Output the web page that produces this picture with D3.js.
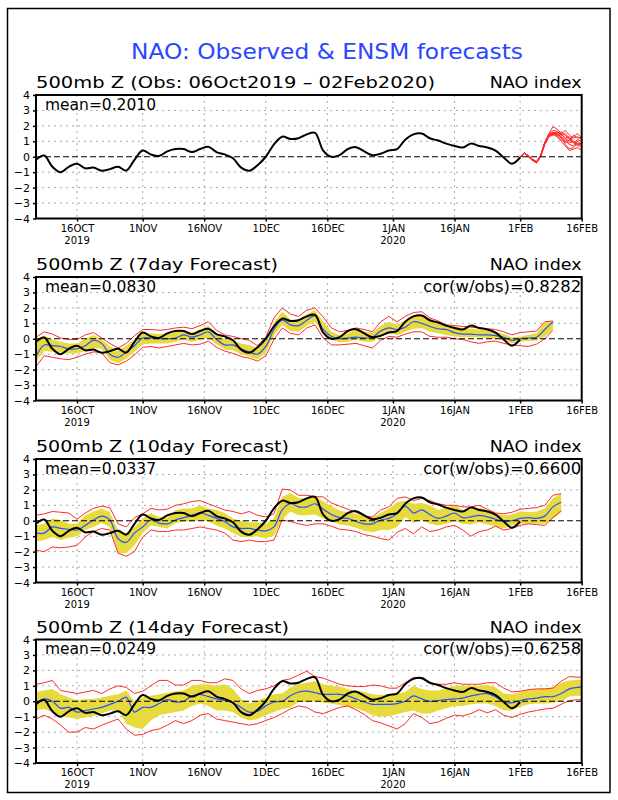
<!DOCTYPE html>
<meta charset="utf-8">
<style>
body {
  margin: 0;
  background: #fff;
}
text {
  font-family: "DejaVu Sans", sans-serif;
}
</style>
<body>
<script src="https://cdn.jsdelivr.net/npm/d3@7"></script>
<script>

var width = 618,
    height = 800;

// x axis ticks (dates) and their labels
var tickDates = ["2019-10-16", "2019-11-01", "2019-11-16", "2019-12-01", "2019-12-16",
                 "2020-01-01", "2020-01-16", "2020-02-01", "2020-02-16"];
var yearDates = ["2019-10-16", "2020-01-01"];
var yearLabels = ["2019", "2020"];
var yTicks = [-4, -3, -2, -1, 0, 1, 2, 3, 4];

var panelTitles = ["500mb Z (Obs: 06Oct2019 \u2013 02Feb2020)", "500mb Z (7day Forecast)",
                   "500mb Z (10day Forecast)", "500mb Z (14day Forecast)"];
var panelMeans = ["0.2010", "0.0830", "0.0337", "0.0249"];
var panelCors = [null, "0.8282", "0.6600", "0.6258"];

// observed NAO, every 2 days from 06Oct2019
var obs = [-0.2, 0.08, -0.65, -1.0, -0.65, -0.45, -0.75, -0.7, -0.9, -0.8,
           -0.65, -0.9, -0.2, 0.4, 0.15, 0.05, 0.35, 0.5, 0.5, 0.3,
           0.5, 0.65, 0.3, 0.15, -0.1, -0.7, -0.9, -0.55, 0.0, 0.8,
           1.3, 1.15, 1.2, 1.45, 1.55, 0.4, 0.0, 0.1, 0.5, 0.62,
           0.35, 0.1, 0.2, 0.4, 0.5, 1.1, 1.45, 1.5, 1.2, 1.05,
           0.85, 0.7, 0.6, 0.85, 0.7, 0.6, 0.4, -0.05, -0.45, -0.05];

// ensemble members, daily from 01Feb2020
var members = [
  [-0.05, 0.25, 0.05, -0.2, -0.35, 0.1, 0.9, 1.5, 1.95, 1.8, 1.5, 1.2, 1.3, 1.0, 0.8, 0.9],
  [-0.05, 0.25, 0.05, -0.2, -0.35, 0.05, 0.85, 1.4, 1.5, 1.55, 1.6, 1.4, 1.1, 0.9, 1.1, 1.0],
  [-0.05, 0.25, 0.0, -0.2, -0.4, 0.0, 0.8, 1.3, 1.4, 1.5, 1.3, 0.8, 0.5, 0.6, 0.9, 0.7],
  [-0.05, 0.25, 0.05, -0.15, -0.3, 0.1, 0.95, 1.45, 1.6, 1.4, 1.5, 1.7, 1.4, 1.2, 1.3, 1.1],
  [-0.05, 0.25, 0.05, -0.2, -0.35, 0.05, 0.9, 1.35, 1.45, 1.3, 1.0, 0.7, 0.4, 0.5, 0.6, 0.4],
  [-0.05, 0.25, 0.0, -0.25, -0.4, 0.0, 0.8, 1.3, 1.55, 1.6, 1.45, 1.2, 1.0, 1.3, 1.5, 1.2],
  [-0.05, 0.25, 0.05, -0.2, -0.35, 0.1, 0.85, 1.4, 1.5, 1.45, 1.2, 1.0, 0.8, 0.7, 1.0, 0.8],
  [-0.05, 0.25, 0.05, -0.2, -0.35, 0.05, 0.9, 1.45, 1.7, 1.65, 1.4, 1.5, 1.2, 0.9, 0.7, 0.9],
  [-0.05, 0.25, 0.05, -0.2, -0.35, 0.05, 0.85, 1.35, 1.5, 1.35, 1.1, 0.9, 1.1, 1.4, 1.2, 1.3],
  [-0.05, 0.25, 0.05, -0.2, -0.35, 0.05, 0.9, 1.4, 1.55, 1.5, 1.3, 1.1, 0.9, 1.0, 0.8, 0.6]
];

// forecasts, every 2 days from 06Oct2019: ensemble mean, yellow band, red envelope
var fc7Mean = [-1.15, -0.4, -0.45, -0.5, -0.65, -0.65, -0.45, -0.1, -0.3, -1.0,
               -1.2, -0.85, -0.45, 0.05, 0.05, 0.0, 0.0, 0.05, 0.25, 0.1,
               0.25, 0.45, -0.05, -0.4, -0.4, -0.65, -0.85, -1.0, -0.5, 0.6,
               1.2, 0.9, 0.85, 1.2, 1.5, 0.6, 0.15, 0.0, 0.05, 0.1,
               0.05, 0.1, 0.5, 0.7, 0.6, 0.75, 1.1, 1.0, 0.8, 0.65,
               0.6, 0.4, 0.3, 0.3, 0.25, 0.25, 0.2, 0.1, -0.1, 0.0,
               0.05, 0.1, 0.6, 1.1];
var fc7YLo = [-1.45, -0.8, -0.85, -0.9, -0.95, -0.95, -0.8, -0.6, -0.65, -1.35,
              -1.6, -1.3, -0.85, -0.35, -0.3, -0.3, -0.3, -0.2, -0.05, -0.2,
              -0.05, 0.05, -0.35, -0.7, -0.75, -1.0, -1.15, -1.35, -0.9, 0.2,
              0.9, 0.5, 0.45, 0.85, 1.1, 0.3, -0.05, -0.25, -0.2, -0.05,
              -0.2, -0.2, 0.15, 0.35, 0.25, 0.45, 0.65, 0.7, 0.45, 0.35,
              0.25, 0.15, 0.1, 0.1, 0.1, 0.05, 0.0, -0.1, -0.3, -0.2,
              -0.15, -0.1, 0.15, 0.6];
var fc7YHi = [-0.05, 0.2, -0.05, -0.2, -0.3, -0.3, 0.0, 0.25, -0.05, -0.5,
              -0.8, -0.45, -0.05, 0.4, 0.35, 0.3, 0.3, 0.4, 0.55, 0.4,
              0.6, 0.85, 0.3, -0.05, -0.1, -0.3, -0.4, -0.6, -0.15, 1.05,
              1.75, 1.25, 1.15, 1.6, 1.85, 1.1, 0.45, 0.25, 0.35, 0.6,
              0.45, 0.4, 0.85, 1.1, 0.9, 1.2, 1.5, 1.5, 1.2, 1.0,
              0.85, 0.8, 0.7, 0.65, 0.6, 0.55, 0.45, 0.3, 0.1, 0.15,
              0.25, 0.35, 1.05, 1.1];
var fc7RLo = [-1.8, -1.1, -1.2, -1.3, -1.35, -1.2, -1.0, -0.85, -0.9, -1.55,
              -1.7, -1.45, -1.05, -0.55, -0.5, -0.6, -0.5, -0.4, -0.3, -0.4,
              -0.35, -0.15, -0.55, -0.8, -0.95, -1.15, -1.25, -1.45, -1.1, -0.05,
              0.7, 0.35, 0.25, 0.7, 0.9, 0.05, -0.4, -0.4, -0.35, -0.3,
              -0.45, -0.6, -0.1, 0.15, 0.1, 0.3, 0.45, 0.45, 0.15, 0.1,
              0.1, 0.0, -0.05, -0.2, -0.3, -0.2, -0.15, -0.3, -0.4, -0.45,
              -0.5, -0.35, 0.0, 0.55];
var fc7RHi = [0.1, 0.45, 0.3, 0.05, -0.05, -0.05, 0.25, 0.4, 0.05, -0.3,
              -0.6, -0.3, 0.2, 0.6, 0.6, 0.55, 0.6, 0.7, 0.75, 0.65,
              0.85, 1.1, 0.55, 0.25, 0.15, 0.0, -0.1, -0.45, 0.1, 1.35,
              2.0, 1.6, 1.45, 1.85, 2.0, 1.4, 0.7, 0.45, 0.55, 0.7,
              0.6, 0.45, 1.1, 1.45, 1.1, 1.45, 1.7, 1.75, 1.35, 1.15,
              0.9, 0.85, 0.8, 0.75, 0.7, 0.65, 0.6, 0.45, 0.25, 0.4,
              0.45, 0.5, 1.1, 1.15];

var fc10Mean = [-0.8, -0.8, -0.4, -0.5, -0.55, -0.6, -0.3, 0.05, 0.3, 0.05,
                -1.15, -1.4, -0.8, -0.4, 0.05, -0.15, -0.2, 0.05, 0.2, 0.35,
                0.5, 0.35, 0.15, -0.05, -0.4, -0.5, -0.5, -0.6, -0.65, -0.4,
                0.7, 1.1, 0.9, 0.9, 1.1, 0.75, 0.4, 0.2, 0.15, -0.05,
                -0.2, -0.2, 0.05, 0.15, 0.45, 0.95, 0.5, 0.7, 0.4, 0.15,
                0.3, 0.5, 0.2, 0.25, 0.35, 0.25, 0.1, -0.05, 0.0, 0.15,
                0.2, 0.15, 0.3, 0.9, 1.2];
var fc10YLo = [-1.35, -1.25, -1.05, -1.25, -1.1, -1.0, -0.6, -0.4, -0.15, -0.4,
               -2.1, -2.1, -1.6, -0.8, -0.3, -0.4, -0.5, -0.15, -0.05, -0.05,
               0.05, -0.05, -0.3, -0.5, -0.8, -1.05, -1.05, -1.0, -1.15, -0.95,
               0.05, 0.6, 0.35, 0.35, 0.4, 0.15, -0.05, -0.25, -0.3, -0.45,
               -0.65, -0.75, -0.6, -0.6, -0.4, 0.25, -0.15, 0.05, -0.2, -0.3,
               -0.2, 0.0, -0.2, -0.25, -0.1, -0.25, -0.35, -0.5, -0.3, -0.2,
               -0.2, -0.2, -0.2, 0.15, 0.55];
var fc10YHi = [-0.3, -0.2, 0.15, 0.05, -0.2, -0.2, 0.35, 0.6, 0.8, 0.55,
               -0.6, -0.8, -0.4, 0.15, 0.5, 0.25, 0.2, 0.7, 0.8, 0.8,
               1.0, 0.8, 0.7, 0.5, 0.15, 0.0, -0.1, -0.1, -0.2, 0.15,
               1.55, 1.8, 1.45, 1.45, 1.6, 1.25, 0.95, 0.65, 0.55, 0.45,
               0.3, 0.25, 0.5, 0.8, 1.2, 1.3, 1.1, 1.15, 1.0, 0.7,
               0.85, 1.0, 0.7, 0.75, 0.85, 0.7, 0.45, 0.35, 0.4, 0.6,
               0.55, 0.6, 0.8, 1.45, 1.75];
var fc10RLo = [-1.9, -2.0, -1.7, -1.75, -1.7, -1.6, -1.05, -0.7, -0.5, -0.6,
               -2.1, -2.3, -2.0, -1.05, -0.6, -0.7, -0.7, -0.6, -0.6, -0.5,
               -0.4, -0.5, -0.6, -0.8, -1.25, -1.35, -1.25, -1.35, -1.35, -1.25,
               0.05, -0.05, -0.2, -0.3, -0.2, -0.2, -0.35, -0.55, -0.6, -0.7,
               -0.9, -1.0, -1.15, -1.25, -0.75, -0.5, -0.85, -0.4, -0.7, -0.6,
               -0.4, -0.3, -0.6, -1.0, -0.7, -0.6, -0.35, -0.6, -0.5, -0.3,
               -0.2, -0.25, -0.3, 0.2, 0.65];
var fc10RHi = [0.35, 0.45, 0.6, 0.55, 0.5, 0.1, 0.5, 0.8, 0.95, 0.85,
               -0.2, -0.4, 0.2, 0.45, 0.8, 0.7, 0.75, 1.0, 1.1, 1.25,
               1.3, 1.1, 0.9, 0.7, 0.6, 0.45, 0.6, 0.35, 0.25, 0.45,
               2.05, 2.0, 1.65, 1.65, 1.55, 1.55, 1.15, 0.95, 0.75, 0.55,
               0.3, 0.25, 0.7, 0.9, 1.45, 1.55, 1.3, 1.45, 1.3, 1.1,
               1.0, 1.0, 0.9, 0.9, 1.0, 0.75, 0.5, 0.45, 0.55, 0.75,
               0.8, 0.85, 1.0, 1.65, 1.75];

var fc14Mean = [-0.1, 0.15, 0.0, -0.45, -0.4, -0.7, -0.6, -0.5, -0.4, -0.2,
                0.0, 0.25, -0.7, -0.4, -0.4, -0.15, 0.1, -0.05, 0.0, 0.35,
                0.45, 0.3, 0.15, 0.05, -0.1, -0.4, -0.7, -0.65, -0.3, -0.05,
                0.0, 0.35, 0.6, 0.65, 0.55, 0.45, 0.45, 0.45, 0.35, 0.15,
                -0.05, -0.2, -0.2, -0.2, -0.15, 0.0, 0.35, 0.15, 0.0, 0.05,
                0.1, 0.15, 0.2, 0.35, 0.45, 0.5, 0.3, -0.05, -0.1, 0.05,
                0.15, 0.2, 0.3, 0.3, 0.5, 0.8, 0.9, 0.95];
var fc14YLo = [-0.6, -0.5, -0.7, -0.9, -1.05, -1.15, -1.05, -0.95, -0.8, -0.6,
               -0.6, -1.45, -1.7, -1.8, -1.25, -0.9, -0.8, -0.7, -0.6, -0.3,
               -0.15, -0.3, -0.6, -0.6, -0.7, -1.05, -1.25, -1.15, -0.9, -0.7,
               -0.5, -0.4, -0.05, -0.05, 0.0, -0.1, -0.15, -0.25, -0.35, -0.45,
               -0.65, -0.9, -1.0, -0.95, -0.85, -0.7, -0.6, -0.8, -0.8, -0.6,
               -0.45, -0.3, -0.3, -0.2, -0.15, -0.15, -0.3, -0.6, -0.6, -0.35,
               -0.2, -0.15, -0.15, -0.1, 0.0, 0.3, 0.35, 0.35];
var fc14YHi = [0.6, 0.7, 0.8, 0.45, 0.25, 0.05, 0.15, 0.15, 0.25, 0.35,
               0.45, 0.7, -0.05, 0.25, 0.35, 0.45, 0.55, 0.65, 0.7, 1.0,
               1.1, 1.1, 1.0, 1.1, 0.8, 0.15, -0.15, 0.05, 0.25, 0.45,
               0.5, 0.9, 1.1, 1.2, 1.3, 1.1, 1.0, 0.95, 0.8, 0.7,
               0.6, 0.45, 0.4, 0.45, 0.5, 0.6, 1.0, 0.8, 0.7, 0.7,
               0.85, 1.0, 1.0, 1.0, 1.0, 1.05, 0.9, 0.5, 0.45, 0.6,
               0.75, 0.8, 0.85, 0.9, 1.2, 1.35, 1.4, 1.4];
var fc14RLo = [-1.15, -0.9, -1.15, -1.55, -2.0, -2.0, -1.7, -1.8, -1.55, -1.35,
               -1.15, -1.8, -2.2, -2.15, -1.9, -1.8, -1.55, -1.25, -1.45, -1.25,
               -0.9, -0.8, -1.15, -1.25, -1.35, -1.45, -1.55, -1.45, -1.25, -1.05,
               -0.8, -0.5, -0.3, -0.4, -0.7, -0.8, -0.6, -0.4, -0.3, -0.55,
               -0.85, -1.25, -1.4, -1.6, -1.8, -1.45, -0.8, -1.05, -1.45, -1.35,
               -1.1, -0.9, -0.95, -0.8, -0.55, -0.75, -0.55, -0.9, -1.05, -0.85,
               -0.7, -0.6, -0.5, -0.45, -0.2, 0.05, 0.1, 0.1];
var fc14RHi = [1.1, 1.2, 1.35, 0.7, 0.6, 0.5, 0.6, 0.7, 0.5, 0.8,
               1.0, 0.9, 0.5, 0.65, 1.0, 1.35, 1.35, 1.05, 1.05, 1.35,
               1.35, 1.2, 1.2, 1.45, 1.35, 0.8, 0.5, 0.7, 0.8, 1.0,
               1.35, 1.45, 1.7, 1.95, 1.6, 1.5, 1.3, 1.1, 1.0, 0.95,
               0.95, 1.05, 1.0, 0.85, 0.85, 1.2, 1.55, 1.45, 1.2, 1.1,
               1.1, 1.2, 1.1, 1.1, 1.1, 1.2, 1.2, 0.85, 0.6, 0.65,
               0.75, 0.8, 0.8, 0.85, 1.3, 1.6, 1.55, 1.6];

var forecasts = [
  null,
  [fc7Mean, fc7YLo, fc7YHi, fc7RLo, fc7RHi],
  [fc10Mean, fc10YLo, fc10YHi, fc10RLo, fc10RHi],
  [fc14Mean, fc14YLo, fc14YHi, fc14RLo, fc14RHi]
];

// ---- layout
var startDate = new Date(Date.UTC(2019, 9, 6));
var obsStep = 2;
function day(n) { return d3.utcDay.offset(startDate, n); }
function parse(s) { return d3.utcParse("%Y-%m-%d")(s); }

var left = 36, right = 581.7,
    panelTops = [95, 277, 459, 639.5],
    panelH = 123.5,
    titleWidths = [399, 242, 253, 253];

var x = d3.scaleUtc()
    .domain([startDate, parse("2020-02-16")])
    .range([left, right]);

var fmtTick = function(d) { return d3.utcFormat("%-d%b")(d).toUpperCase(); };

var svg = d3.select("body").append("svg")
    .attr("width", width)
    .attr("height", height);

svg.append("rect")
    .attr("x", 7.5).attr("y", 8.5)
    .attr("width", 602.5).attr("height", 784)
    .style("fill", "none").style("stroke", "black").style("stroke-width", 1.5);

function label(g, str, x0, y0, w, size, color) {
  return g.append("text")
      .attr("x", x0).attr("y", y0)
      .attr("font-size", size)
      .attr("fill", color || "#000")
      .attr("textLength", w)
      .attr("lengthAdjust", "spacingAndGlyphs")
      .text(str);
}

label(svg, "NAO: Observed & ENSM forecasts", 131, 59, 392, 21, "#2a46ff");

var yellow = "#e6da3c", red = "#ff2a2a", blue = "#2a50ff";

panelTops.forEach(function(top, p) {

  var y = d3.scaleLinear().domain([-4, 4]).range([top + panelH, top]);
  var g = svg.append("g");

  g.append("clipPath").attr("id", "clip" + p)
    .append("rect")
      .attr("x", left).attr("y", top)
      .attr("width", right - left).attr("height", panelH);

  // grid
  g.selectAll(".hgrid").data(yTicks.filter(function(v) { return v !== 0 && Math.abs(v) < 4; }))
    .enter().append("line")
      .attr("x1", left).attr("x2", right)
      .attr("y1", function(d) { return y(d); }).attr("y2", function(d) { return y(d); })
      .style("stroke", "#a8a8a8").style("stroke-dasharray", "2,4");

  g.selectAll(".vgrid").data(tickDates.slice(0, -1))
    .enter().append("line")
      .attr("x1", function(d) { return x(parse(d)); }).attr("x2", function(d) { return x(parse(d)); })
      .attr("y1", top).attr("y2", top + panelH)
      .style("stroke", "#a8a8a8").style("stroke-dasharray", "2,4");

  var plot = g.append("g").attr("clip-path", "url(#clip" + p + ")");

  var fc = forecasts[p];
  if (fc) {
    var rows = fc[0].map(function(v, i) {
      return {date: day(i * obsStep), mean: v, ylo: fc[1][i], yhi: fc[2][i], rlo: fc[3][i], rhi: fc[4][i]};
    });

    plot.append("path").datum(rows)
      .attr("d", d3.area()
        .x(function(d) { return x(d.date); })
        .y0(function(d) { return y(d.ylo); })
        .y1(function(d) { return y(d.yhi); }))
      .style("fill", yellow);

    ["rlo", "rhi"].forEach(function(k) {
      plot.append("path").datum(rows)
        .attr("d", d3.line()
          .x(function(d) { return x(d.date); })
          .y(function(d) { return y(d[k]); }))
        .style("fill", "none").style("stroke", red).style("stroke-width", 1);
    });

    plot.append("path").datum(rows)
      .attr("d", d3.line()
        .curve(d3.curveCatmullRom)
        .x(function(d) { return x(d.date); })
        .y(function(d) { return y(d.mean); }))
      .style("fill", "none").style("stroke", blue).style("stroke-width", 1.2);
  } else {
    var memStart = day((obs.length - 1) * obsStep);
    members.forEach(function(m) {
      plot.append("path").datum(m)
        .attr("d", d3.line()
          .x(function(d, i) { return x(d3.utcDay.offset(memStart, i)); })
          .y(function(d) { return y(d); }))
        .style("fill", "none").style("stroke", red).style("stroke-width", 1);
    });
  }

  // zero line
  plot.append("line")
    .attr("x1", left).attr("x2", right)
    .attr("y1", y(0)).attr("y2", y(0))
    .style("stroke", "black").style("stroke-dasharray", "6,3");

  // observed
  plot.append("path").datum(obs)
    .attr("d", d3.line()
      .curve(d3.curveCatmullRom)
      .x(function(d, i) { return x(day(i * obsStep)); })
      .y(function(d) { return y(d); }))
    .style("fill", "none").style("stroke", "black").style("stroke-width", 2);

  // frame
  g.append("rect")
    .attr("x", left).attr("y", top)
    .attr("width", right - left).attr("height", panelH)
    .style("fill", "none").style("stroke", "black").style("stroke-width", 2);

  // axes
  var ya = g.append("g")
      .attr("transform", "translate(" + left + ",0)")
      .call(d3.axisLeft(y).tickValues(yTicks).tickSize(3)
        .tickFormat(function(d) { return d < 0 ? "\u2212" + (-d) : d; }));
  ya.select(".domain").remove();
  ya.selectAll("text").attr("font-size", 11).attr("font-family", "DejaVu Sans").attr("fill", "#000");
  ya.selectAll("line").style("stroke-width", 1.5);

  var xa = g.append("g")
      .attr("transform", "translate(0," + (top + panelH) + ")")
      .call(d3.axisBottom(x).tickValues(tickDates.map(parse)).tickSize(3).tickFormat(fmtTick));
  xa.select(".domain").remove();
  xa.selectAll("text").attr("font-size", 10).attr("font-family", "DejaVu Sans").attr("fill", "#000");
  xa.selectAll("line").style("stroke-width", 1.5);

  g.selectAll(".year").data(yearDates)
    .enter().append("text")
      .attr("x", function(d) { return x(parse(d)); })
      .attr("y", top + panelH + 25)
      .attr("text-anchor", "middle")
      .attr("font-size", 10)
      .text(function(d, i) { return yearLabels[i]; });

  // labels
  label(g, panelTitles[p], left, top - 7, titleWidths[p], 15.5);
  label(g, "NAO index", right - 92, top - 7, 92, 15.5);
  label(g, "mean=" + panelMeans[p], 45, top + 14.5, 111, 15);
  if (panelCors[p]) {
    label(g, "cor(w/obs)=" + panelCors[p], right - 158.5, top + 14.5, 158, 15);
  }
});

</script>
